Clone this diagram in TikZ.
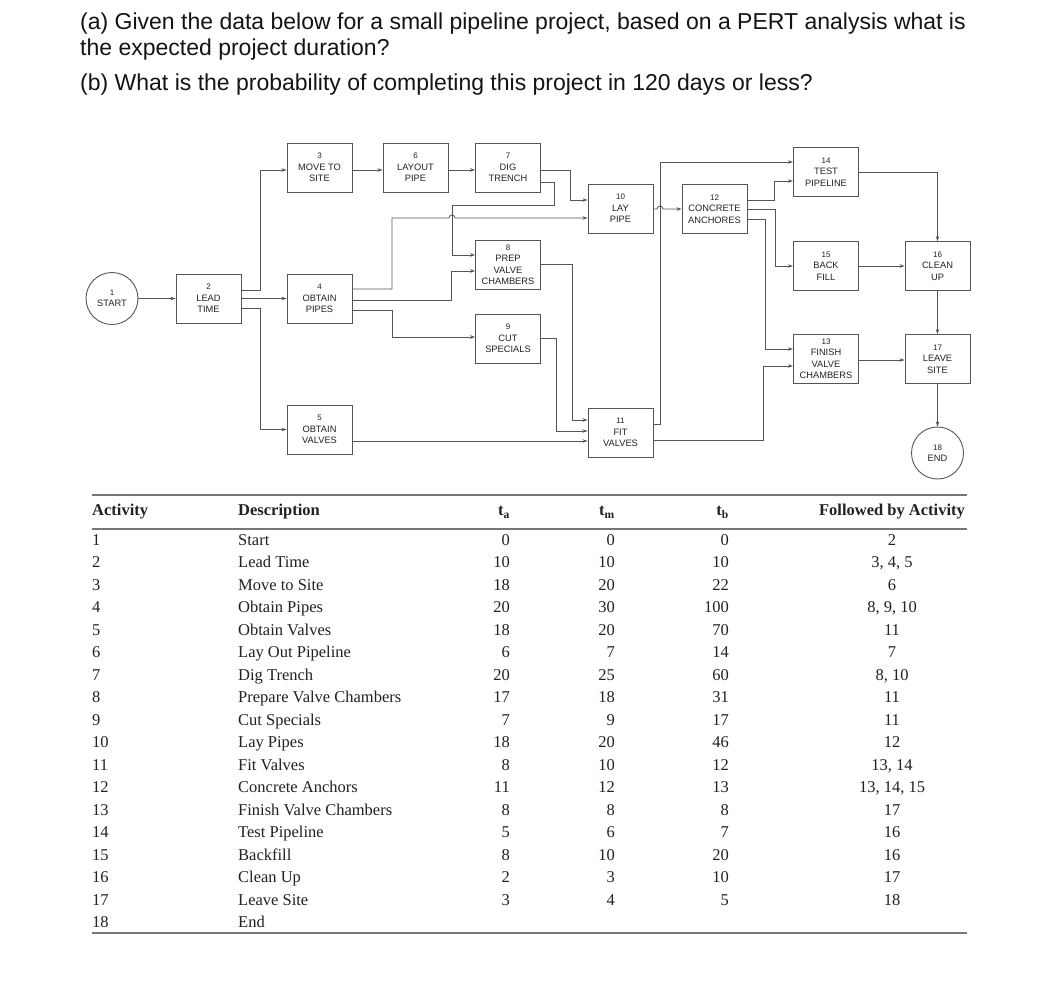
\documentclass[tikz,border=0pt]{standalone}
\usepackage{fontspec}
\setmainfont{Liberation Serif}
\setsansfont{Liberation Sans}
\usetikzlibrary{arrows.meta}
\definecolor{ln}{HTML}{555555}
\definecolor{tx}{HTML}{222222}
\definecolor{rl}{HTML}{777777}
\begin{document}
\begin{tikzpicture}[x=1pt,y=-1pt,
  box/.style={draw=ln, line width=0.9pt, minimum width=65pt, minimum height=49pt, inner sep=0pt, align=center, font=\sffamily\fontsize{9.3}{11.5}\selectfont, text=tx},
  ev/.style={draw=ln, line width=0.9pt, circle, minimum size=52pt, inner sep=0pt, align=center, font=\sffamily\fontsize{9.3}{11.5}\selectfont, text=tx},
  arr/.style={draw=ln, line width=0.8pt, -{Stealth[length=5pt,width=3.5pt]}},
  ttl/.style={anchor=base west, inner sep=0pt, font=\sffamily\fontsize{23}{27}\selectfont, text=black!92},
  cell/.style={inner sep=0pt, font=\rmfamily\fontsize{16.5}{20}\selectfont, text=tx},
  hcell/.style={cell, font=\rmfamily\bfseries\fontsize{16.5}{20}\selectfont},
  trule/.style={draw=rl, line width=1.8pt}]
\newcommand{\nm}[1]{{\fontsize{8}{11.5}\selectfont #1}}
\useasboundingbox[fill=white] (0,0) rectangle (1053,1002);

% title
\node[ttl] (t1) at (80,29) {(a) Given the data below for a small pipeline project, based on a PERT analysis what is};
\node[ttl] (t2) at (80,55.5) {the expected project duration?};
\node[ttl] (t3) at (80,90) {(b) What is the probability of completing this project in 120 days or less?};

% network
\node[ev]  (n1)  at (112,298.5) {\nm{1}\\START};
\node[box] (n2)  at (208.5,298.5) {\nm{2}\\LEAD\\TIME};
\node[box] (n3)  at (319.5,167.5) {\nm{3}\\MOVE TO\\SITE};
\node[box] (n4)  at (319.5,298.5) {\nm{4}\\OBTAIN\\PIPES};
\node[box] (n5)  at (319.5,429.5) {\nm{5}\\OBTAIN\\VALVES};
\node[box] (n6)  at (415.5,167.5) {\nm{6}\\LAYOUT\\PIPE};
\node[box] (n7)  at (508,167.5) {\nm{7}\\DIG\\TRENCH};
\node[box] (n8)  at (508,264.5) {\nm{8}\\PREP\\VALVE\\CHAMBERS};
\node[box] (n9)  at (508,338.5) {\nm{9}\\CUT\\SPECIALS};
\node[box] (n10) at (620.5,208.5) {\nm{10}\\LAY\\PIPE};
\node[box] (n11) at (620.5,432.5) {\nm{11}\\FIT\\VALVES};
\node[box] (n12) at (714.5,209) {\nm{12}\\CONCRETE\\ANCHORES};
\node[box] (n13) at (826,358.5) {\nm{13}\\FINISH\\VALVE\\CHAMBERS};
\node[box] (n14) at (826,172) {\nm{14}\\TEST\\PIPELINE};
\node[box] (n15) at (826,266) {\nm{15}\\BACK\\FILL};
\node[box] (n16) at (937.5,266) {\nm{16}\\CLEAN\\UP};
\node[box] (n17) at (937.5,359) {\nm{17}\\LEAVE\\SITE};
\node[ev]  (n18) at (937.5,453) {\nm{18}\\END};

% connectors
\draw[arr] (n1.east) -- (n2.west);
\draw[arr] (n2.east|-0,290) -- (260,290) |- (n3.west|-0,170);
\draw[arr] (n2.east) -- (n4.west);
\draw[arr] (n2.east|-0,308) -- (260,308) |- (n5.west);
\draw[arr] (n3.east|-0,170) -- (n6.west|-0,170);
\draw[arr] (n6.east|-0,170) -- (n7.west|-0,170);
\draw[arr] (n7.east|-0,170) -- (570,170) |- (n10.west|-0,200);
\draw[arr] (n7.east|-0,182) -- (554,182) -- (554,205) -- (452,205) |- (n8.west|-0,255);
\draw[arr] (n4.east|-0,289) -- (392,289) -- (392,218) -- (449,218) arc[start angle=180,end angle=0,radius=3pt] -- (n10.west|-0,218);
\draw[arr] (n4.east|-0,300) -- (451,300) |- (n8.west|-0,271);
\draw[arr] (n4.east|-0,310) -- (392,310) |- (n9.west|-0,337);
\draw[arr] (n8.east|-0,264) -- (572,264) |- (n11.west|-0,420);
\draw[arr] (n9.east|-0,338) -- (556,338) |- (n11.west|-0,431);
\draw[arr] (n5.east|-0,441) -- (n11.west|-0,441);
\draw[arr] (n10.east|-0,209) -- (657,209) arc[start angle=180,end angle=0,radius=3pt] -- (n12.west|-0,209);
\draw[arr] (n11.east|-0,424) -- (660,424) |- (n14.west|-0,162);
\draw[arr] (n11.east|-0,440) -- (763,440) |- (n13.west|-0,366);
\draw[arr] (n12.east|-0,200) -- (774,200) |- (n14.west|-0,181);
\draw[arr] (n12.east|-0,209) -- (775,209) |- (n15.west);
\draw[arr] (n12.east|-0,219) -- (765,219) |- (n13.west|-0,349);
\draw[arr] (n14.east|-0,172) -| (n16.north);
\draw[arr] (n15.east) -- (n16.west);
\draw[arr] (n16.south) -- (n17.north);
\draw[arr] (n13.east|-0,360) -- (n17.west|-0,360);
\draw[arr] (n17.south) -- (n18.north);

% table
\draw[trule] (92,495) -- (967,495);
\draw[trule] (92,529) -- (967,529);
\draw[trule] (92,933) -- (967,933);
\node[hcell, anchor=base west] (hA) at (92,515.5) {Activity};
\node[hcell, anchor=base west] (hD) at (238,515.5) {Description};
\node[hcell, anchor=base east] (hta) at (510,515.5) {t\textsubscript{a}};
\node[hcell, anchor=base east] (htm) at (615,515.5) {t\textsubscript{m}};
\node[hcell, anchor=base east] (htb) at (729,515.5) {t\textsubscript{b}};
\node[hcell, anchor=base] (hF) at (892,515.5) {Followed by Activity};
\foreach \n/\d/\a/\m/\b/\f [evaluate=\n as \yy using 545.5+(\n-1)*22.47] in {
  1/Start/0/0/0/2,
  2/Lead Time/10/10/10/{3, 4, 5},
  3/Move to Site/18/20/22/6,
  4/Obtain Pipes/20/30/100/{8, 9, 10},
  5/Obtain Valves/18/20/70/11,
  6/Lay Out Pipeline/6/7/14/7,
  7/Dig Trench/20/25/60/{8, 10},
  8/Prepare Valve Chambers/17/18/31/11,
  9/Cut Specials/7/9/17/11,
  10/Lay Pipes/18/20/46/12,
  11/Fit Valves/8/10/12/{13, 14},
  12/Concrete Anchors/11/12/13/{13, 14, 15},
  13/Finish Valve Chambers/8/8/8/17,
  14/Test Pipeline/5/6/7/16,
  15/Backfill/8/10/20/16,
  16/Clean Up/2/3/10/17,
  17/Leave Site/3/4/5/18}{
  \node[cell, anchor=base west] (a\n) at (92,\yy) {\n};
  \node[cell, anchor=base west] (d\n) at (238,\yy) {\d};
  \node[cell, anchor=base east] (ta\n) at (510,\yy) {\a};
  \node[cell, anchor=base east] (tm\n) at (615,\yy) {\m};
  \node[cell, anchor=base east] (tb\n) at (729,\yy) {\b};
  \node[cell, anchor=base] (f\n) at (892,\yy) {\f};
}
\node[cell, anchor=base west] (a18) at (92,927.5) {18};
\node[cell, anchor=base west] (d18) at (238,927.5) {End};
\end{tikzpicture}
\end{document}
